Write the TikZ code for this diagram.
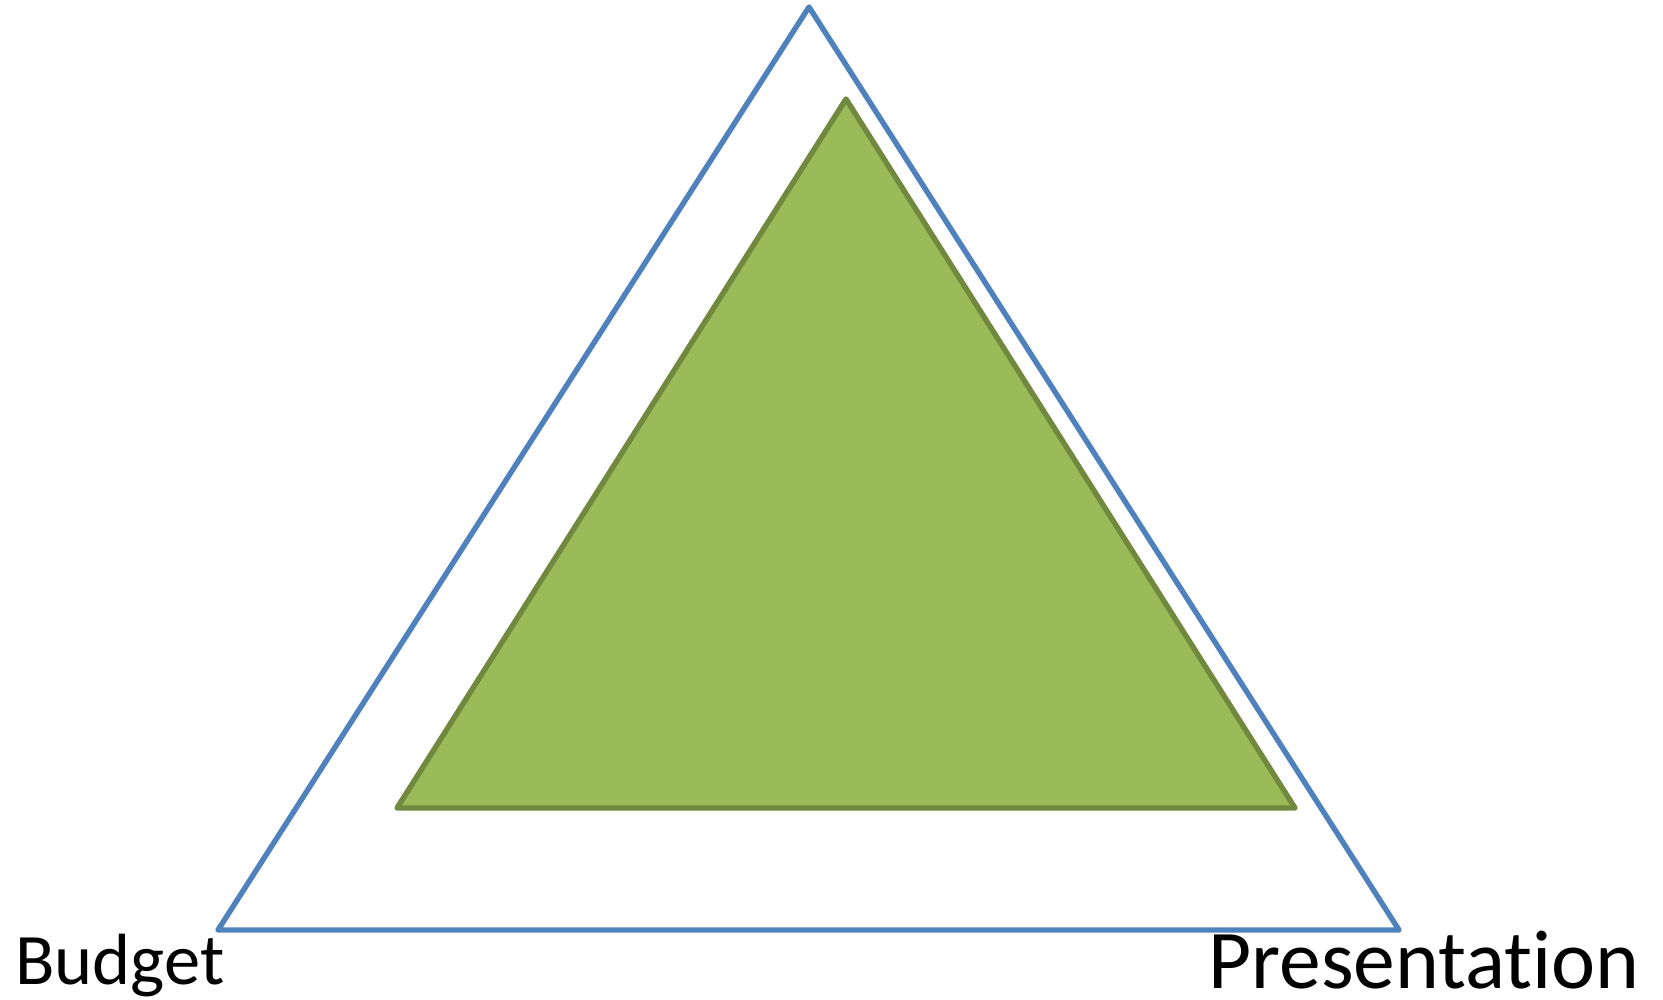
\documentclass[tikz,border=0pt]{standalone}
\usepackage{fontspec}
\setmainfont[Ligatures=NoCommon]{Carlito}
\definecolor{outerblue}{HTML}{4F81BD}
\definecolor{innerfill}{HTML}{9BBB59}
\definecolor{innerline}{HTML}{71893F}
\begin{document}
\begin{tikzpicture}[x=1pt,y=-1pt,
  outertri/.style={draw=outerblue,line width=5.4pt,line join=round},
  innertri/.style={draw=innerline,fill=innerfill,line width=5.4pt,line join=round},
  lbl/.style={inner sep=0pt,anchor=base west,text=black,text depth=0pt}]
\useasboundingbox (0,0) rectangle (1663,1000);
\coordinate (oa) at (809,7);
\coordinate (ol) at (218,930);
\coordinate (or) at (1399,930);
\coordinate (ia) at (846,99);
\coordinate (il) at (397,808);
\coordinate (ir) at (1295,808);
\draw[outertri] (oa) -- (ol) -- (or) -- cycle;
\draw[innertri] (ia) -- (il) -- (ir) -- cycle;
\node[lbl,font=\fontsize{72.5}{80}\selectfont] (budget) at (15,984) {Budget};
\node[lbl,font=\fontsize{83.5}{90}\selectfont] (pres) at (1208,988) {Presentation};
\end{tikzpicture}
\end{document}
